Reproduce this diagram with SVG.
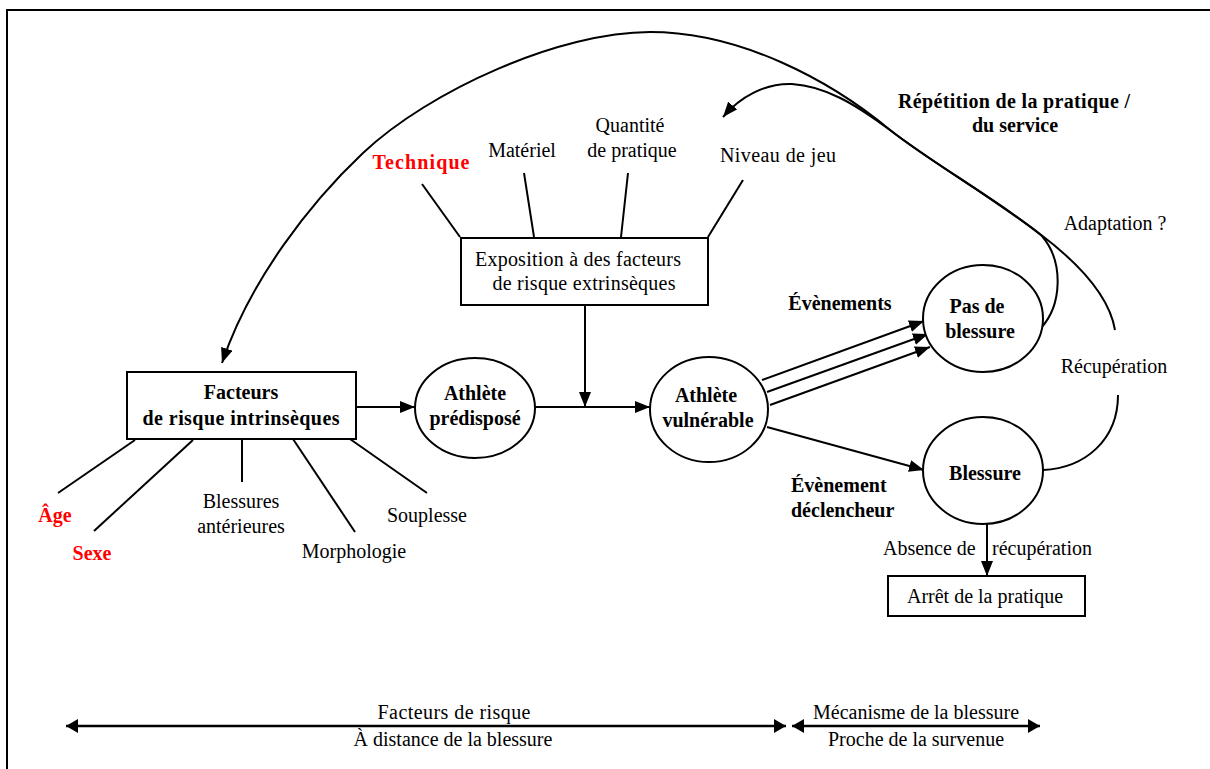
<svg xmlns="http://www.w3.org/2000/svg" width="1210" height="769" viewBox="0 0 1210 769">
<style>
text{font-family:"Liberation Serif","Times New Roman",serif;font-size:20px;fill:#000}
.b{font-weight:bold}
.red{fill:#ff0000;font-weight:bold}
.m{text-anchor:middle}
.ln{stroke:#000;stroke-width:2;fill:none}
.shape{stroke:#000;stroke-width:2;fill:#fff}
.arr{marker-end:url(#ah)}
</style>
<defs>
<marker id="ah" markerUnits="userSpaceOnUse" viewBox="0 0 15 12" refX="15" refY="6" markerWidth="15" markerHeight="12" orient="auto">
<path d="M0,0 L15,6 L0,12 z" fill="#000"/>
</marker>
<marker id="ah2" markerUnits="userSpaceOnUse" viewBox="0 0 12 14" refX="12" refY="7" markerWidth="12" markerHeight="14" orient="auto-start-reverse">
<path d="M0,0 L12,7 L0,14 z" fill="#000"/>
</marker>
</defs>
<rect width="1210" height="769" fill="#fff"/>
<path d="M7,769 L7,10 L1210,10" class="ln"/>

<g id="connectors">
<!-- big arc -->
<path class="ln arr" d="M1115,330 C1110,300 1085,268 1040,234 C990,195 935,165 890,130 C830,80 740,32 650,32 C560,32 430,90 363,153 C310,203 250,280 222,363"/>
<!-- adaptation loop -->
<path class="ln arr" d="M1041,328 C1062,305 1064,262 1042,236 C990,195 935,165 890,130 C855,104 825,86 792,84 C765,83 740,97 723,117"/>
<!-- recovery -->
<path class="ln" d="M1043,470 C1085,468 1118,440 1118,395"/>
<!-- intrinsic lines -->
<line class="ln" x1="135" y1="440" x2="58" y2="493"/>
<line class="ln" x1="193" y1="440" x2="94" y2="531"/>
<line class="ln" x1="242" y1="439" x2="242" y2="482"/>
<line class="ln" x1="293" y1="439" x2="355" y2="532"/>
<line class="ln" x1="350" y1="439" x2="427" y2="493"/>
<!-- extrinsic lines -->
<line class="ln" x1="422" y1="184" x2="460" y2="237"/>
<line class="ln" x1="524" y1="173" x2="534" y2="237"/>
<line class="ln" x1="628" y1="173" x2="621" y2="237"/>
<line class="ln" x1="743" y1="180" x2="708" y2="237"/>
<!-- main flow -->
<line class="ln arr" x1="356" y1="407" x2="415" y2="407"/>
<line class="ln arr" x1="535" y1="407" x2="650" y2="407"/>
<line class="ln arr" x1="585" y1="305" x2="585" y2="407"/>
<line class="ln arr" x1="762" y1="380" x2="924" y2="321"/>
<line class="ln arr" x1="767" y1="392" x2="928" y2="334"/>
<line class="ln arr" x1="770" y1="405" x2="930" y2="347"/>
<line class="ln arr" x1="767" y1="427" x2="924" y2="470"/>
<line class="ln arr" x1="987" y1="524" x2="987" y2="576"/>
<!-- bottom scale -->
<line x1="66" y1="726" x2="786" y2="726" stroke="#000" stroke-width="2.5" marker-start="url(#ah2)" marker-end="url(#ah2)"/>
<line x1="792" y1="726" x2="1040" y2="726" stroke="#000" stroke-width="2.5" marker-start="url(#ah2)" marker-end="url(#ah2)"/>
</g>

<g id="facteurs-intrinseques">
<rect class="shape" x="127" y="372" width="229" height="67"/>
<text class="b m" x="241" y="399">Facteurs</text>
<text class="b m" x="241" y="425" textLength="197" lengthAdjust="spacing">de risque intrinsèques</text>
</g>
<g id="athlete-predispose">
<ellipse class="shape" cx="475" cy="408" rx="60" ry="50"/>
<text class="b m" x="475" y="400">Athlète</text>
<text class="b m" x="475" y="425">prédisposé</text>
</g>
<g id="exposition">
<rect class="shape" x="461" y="238" width="247" height="67"/>
<text class="m" x="578" y="266" textLength="206" lengthAdjust="spacing">Exposition à des facteurs</text>
<text class="m" x="584" y="290" textLength="183" lengthAdjust="spacing">de risque extrinsèques</text>
</g>
<g id="athlete-vulnerable">
<ellipse class="shape" cx="709" cy="409.5" rx="59" ry="52.5"/>
<text class="b m" x="706" y="402">Athlète</text>
<text class="b m" x="708" y="427">vulnérable</text>
</g>
<g id="pas-de-blessure">
<ellipse class="shape" cx="983" cy="318.5" rx="60" ry="53.5"/>
<text class="b m" x="977" y="313">Pas de</text>
<text class="b m" x="980" y="338">blessure</text>
</g>
<g id="blessure">
<ellipse class="shape" cx="983" cy="470.5" rx="60" ry="53.5"/>
<text class="b m" x="985" y="480">Blessure</text>
</g>
<g id="arret">
<rect class="shape" x="888" y="576" width="197" height="40"/>
<text class="m" x="985" y="603">Arrêt de la pratique</text>
</g>

<g id="labels">
<text class="red m" x="421" y="169" textLength="97" lengthAdjust="spacing">Technique</text>
<text class="m" x="522" y="157">Matériel</text>
<text class="m" x="630" y="132">Quantité</text>
<text class="m" x="632" y="157">de pratique</text>
<text class="m" x="778" y="162" textLength="116" lengthAdjust="spacing">Niveau de jeu</text>
<text class="b m" x="1014" y="108" textLength="232" lengthAdjust="spacing">Répétition de la pratique /</text>
<text class="b m" x="1015" y="132">du service</text>
<text class="m" x="1115" y="230">Adaptation ?</text>
<text class="m" x="1114" y="373">Récupération</text>
<text class="b m" x="840" y="310">Évènements</text>
<text class="b" x="791" y="492">Évènement</text>
<text class="b" x="791" y="517">déclencheur</text>
<text y="555"><tspan x="883">Absence de </tspan><tspan x="992">récupération</tspan></text>
<text class="red m" x="55" y="522">Âge</text>
<text class="red m" x="92" y="560">Sexe</text>
<text class="m" x="241" y="508">Blessures</text>
<text class="m" x="241" y="533">antérieures</text>
<text class="m" x="354" y="558">Morphologie</text>
<text class="m" x="427" y="522">Souplesse</text>
<text class="m" x="454" y="719" textLength="153" lengthAdjust="spacing">Facteurs de risque</text>
<text class="m" x="453" y="746">À distance de la blessure</text>
<text class="m" x="916" y="719">Mécanisme de la blessure</text>
<text class="m" x="916" y="746">Proche de la survenue</text>
</g>
</svg>
